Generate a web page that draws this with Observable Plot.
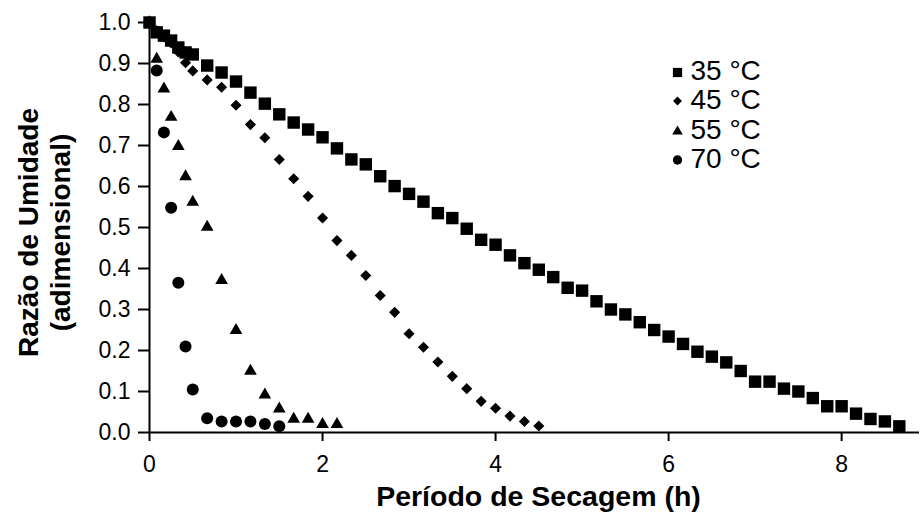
<!DOCTYPE html>
<html>
<head>
<meta charset="utf-8">
<script src="https://cdn.jsdelivr.net/npm/d3@7"></script>
<script src="https://cdn.jsdelivr.net/npm/@observablehq/plot@0.6"></script>
<style>
  html, body { margin: 0; padding: 0; background: #fff; }
  #chart svg { display: block; }
</style>
</head>
<body>
<div id="chart"></div>
<script>
// ---- data (time in minutes, moisture ratio dimensionless) ----
const seriesNames = ["35 °C", "45 °C", "55 °C", "70 °C"];

const t35 = [0, 5, 10, 15, 20, 25, 30, 40, 50, 60, 70, 80, 90, 100, 110, 120, 130, 140, 150, 160, 170, 180, 190, 200, 210, 220, 230, 240, 250, 260, 270, 280, 290, 300, 310, 320, 330, 340, 350, 360, 370, 380, 390, 400, 410, 420, 430, 440, 450, 460, 470, 480, 490, 500, 510, 520];
const mr35 = [1.0, 0.976, 0.968, 0.956, 0.939, 0.927, 0.922, 0.895, 0.878, 0.856, 0.829, 0.802, 0.776, 0.756, 0.739, 0.720, 0.693, 0.666, 0.654, 0.625, 0.601, 0.582, 0.563, 0.535, 0.523, 0.497, 0.470, 0.458, 0.432, 0.413, 0.397, 0.379, 0.353, 0.346, 0.320, 0.300, 0.288, 0.269, 0.250, 0.234, 0.216, 0.197, 0.185, 0.171, 0.150, 0.124, 0.124, 0.107, 0.100, 0.084, 0.064, 0.064, 0.046, 0.033, 0.027, 0.015];

const t45 = [0, 5, 10, 15, 20, 25, 30, 40, 50, 60, 70, 80, 90, 100, 110, 120, 130, 140, 150, 160, 170, 180, 190, 200, 210, 220, 230, 240, 250, 260, 270];
const mr45 = [1.0, 0.980, 0.965, 0.950, 0.928, 0.902, 0.882, 0.860, 0.842, 0.798, 0.751, 0.719, 0.666, 0.619, 0.576, 0.523, 0.468, 0.432, 0.383, 0.334, 0.293, 0.241, 0.208, 0.172, 0.137, 0.107, 0.076, 0.059, 0.040, 0.027, 0.016];

const t55 = [0, 5, 10, 15, 20, 25, 30, 40, 50, 60, 70, 80, 90, 100, 110, 120, 130];
const mr55 = [1.0, 0.911, 0.838, 0.769, 0.698, 0.624, 0.562, 0.501, 0.371, 0.249, 0.150, 0.092, 0.058, 0.033, 0.033, 0.020, 0.020];

const t70 = [0, 5, 10, 15, 20, 25, 30, 40, 50, 60, 70, 80, 90];
const mr70 = [1.0, 0.883, 0.732, 0.548, 0.365, 0.210, 0.105, 0.035, 0.027, 0.027, 0.027, 0.021, 0.015];

const xTicks = [0, 2, 4, 6, 8];
const yTicks = [0, 0.1, 0.2, 0.3, 0.4, 0.5, 0.6, 0.7, 0.8, 0.9, 1.0];
const xTitle = "Período de Secagem (h)";
const yTitle1 = "Razão de Umidade";
const yTitle2 = "(adimensional)";

// ---- styling ----
const symbols = ["square", "diamond2", "triangle", "circle"];
const dotR = [7, 5, 4.7, 6];
const legendR = [5.2, 4, 3.9, 4.7];
const legendRowY = [72, 100.5, 131, 159.5];
const font = "'Liberation Sans', Arial, Helvetica, sans-serif";

const series = [[t35, mr35], [t45, mr45], [t55, mr55], [t70, mr70]];
const rows = [];
series.forEach(([t, m], k) => t.forEach((v, i) => rows.push({ series: seriesNames[k], h: v / 60, mr: m[i] })));

const W = 922, H = 523, ML = 149, MR = 3, MT = 22, MB = 91;

const marks = [
  Plot.ruleY([0], { stroke: "#000", strokeWidth: 2 }),
  Plot.ruleX([0], { stroke: "#000", strokeWidth: 2 }),
  Plot.axisX({ ticks: xTicks, tickSize: 9, tickPadding: 14, fontSize: 23, label: null, strokeWidth: 2 }),
  Plot.axisY({ ticks: yTicks, tickSize: 11, tickPadding: 8, tickFormat: d3.format(".1f"), fontSize: 23, label: null, strokeWidth: 2 }),
  ...seriesNames.map((s, k) => Plot.dot(rows.filter(d => d.series === s), {
    x: "h", y: "mr", symbol: symbols[k], r: dotR[k], fill: "#000", stroke: "none"
  })),
  Plot.text([xTitle], { frameAnchor: "bottom", textAnchor: "middle", dy: 73, dx: 4, fontWeight: "bold", fontSize: 28.5 }),
  Plot.text([yTitle1], { frameAnchor: "left", textAnchor: "middle", rotate: -90, dx: -120, dy: 5, fontWeight: "bold", fontSize: 28 }),
  Plot.text([yTitle2], { frameAnchor: "left", textAnchor: "middle", rotate: -90, dx: -88, dy: 5, fontWeight: "bold", fontSize: 28 }),
  ...seriesNames.map((s, k) => Plot.dot([s], {
    frameAnchor: "top-left", dx: 677 - ML, dy: legendRowY[k] - MT, symbol: symbols[k], r: legendR[k], fill: "#000", stroke: "none"
  })),
  ...seriesNames.map((s, k) => Plot.text([s], {
    frameAnchor: "top-left", dx: 690 - ML, dy: legendRowY[k] - MT - 1, text: d => d, textAnchor: "start", lineAnchor: "middle", fontSize: 28
  }))
];

const chart = Plot.plot({
  width: W, height: H,
  marginLeft: ML, marginRight: MR, marginTop: MT, marginBottom: MB,
  style: { fontFamily: font, color: "#000", background: "#fff", overflow: "visible" },
  x: { domain: [0, 8.9] },
  y: { domain: [0, 1] },
  marks
});
document.getElementById("chart").appendChild(chart);
</script>
</body>
</html>
